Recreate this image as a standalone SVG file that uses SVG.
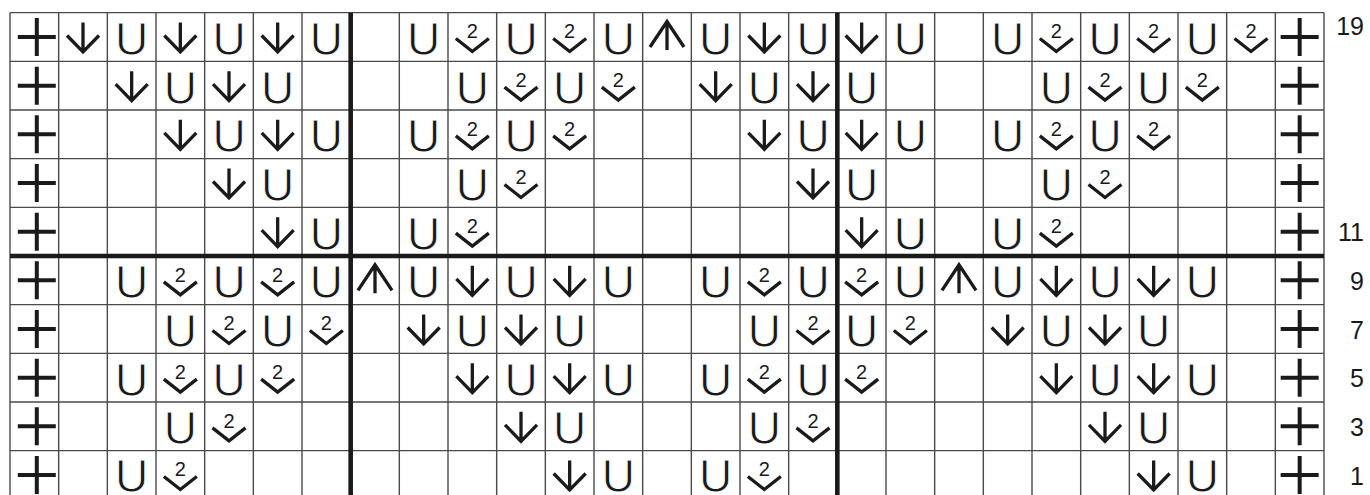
<svg xmlns="http://www.w3.org/2000/svg" width="1370" height="495" viewBox="0 0 1370 495">
<style>
.thin{stroke:#4a4a4a;stroke-width:1.4;fill:none}
.thick{stroke:#1a1a1a;stroke-width:4.6;fill:none}
.sym{stroke:#1a1a1a;stroke-width:3.3;fill:none;stroke-linejoin:miter;stroke-linecap:butt}
.plus{stroke:#1a1a1a;stroke-width:4;fill:none}
.u{font-family:"Liberation Sans",Arial,sans-serif;font-size:46px;fill:#1a1a1a;stroke:#ffffff;stroke-width:0.8;text-anchor:middle}
.two{font-family:"Liberation Sans",Arial,sans-serif;font-size:20px;fill:#1a1a1a;text-anchor:middle}
.lbl{font-family:"Liberation Sans",Arial,sans-serif;font-size:25px;fill:#1a1a1a;text-anchor:end}
</style>
<defs>
<g id="p"><path class="plus" d="M-19,0H19M0,-19V19"/></g>
<g id="d"><path class="sym" d="M0,-14.5V14M-16,-1.5L0,15L16,-1.5"/></g>
<g id="a"><path class="sym" d="M0,-15V13M-17,10L0,-15.5L17,10"/></g>
<g id="k"><path class="sym" d="M-16.5,1.5L0,14.5L16.5,1.5"/></g>
</defs>
<rect x="0" y="0" width="1370" height="495" fill="#ffffff"/>
<g id="grid">
<path class="thin" d="M10,12.67V499M58.67,12.67V499M107.33,12.67V499M156,12.67V499M204.67,12.67V499M253.33,12.67V499M302,12.67V499M399.33,12.67V499M448,12.67V499M496.67,12.67V499M545.33,12.67V499M594,12.67V499M642.67,12.67V499M691.33,12.67V499M740,12.67V499M788.67,12.67V499M886,12.67V499M934.67,12.67V499M983.33,12.67V499M1032,12.67V499M1080.67,12.67V499M1129.33,12.67V499M1178,12.67V499M1226.67,12.67V499M1275.33,12.67V499M1324,12.67V499"/>
<path class="thin" d="M10,12.67H1324M10,61.33H1324M10,110H1324M10,158.67H1324M10,207.33H1324M10,304.67H1324M10,353.33H1324M10,402H1324M10,450.67H1324"/>
<path class="thick" d="M350.67,12.67V499M837.33,12.67V499M10,256H1324"/>
</g>
<g id="row19">
<use href="#p" x="36.8" y="37"/><use href="#d" x="83" y="37"/><text class="u" x="131.67" y="55">U</text><use href="#d" x="180.33" y="37"/><text class="u" x="229" y="55">U</text><use href="#d" x="277.67" y="37"/><text class="u" x="326.33" y="55">U</text>
<text class="u" x="423.67" y="55">U</text><use href="#k" x="472.33" y="37"/><text class="two" x="472.33" y="38.3">2</text><text class="u" x="521" y="55">U</text><use href="#k" x="569.67" y="37"/><text class="two" x="569.67" y="38.3">2</text><text class="u" x="618.33" y="55">U</text><use href="#a" x="667" y="37"/><text class="u" x="715.67" y="55">U</text><use href="#d" x="764.33" y="37"/><text class="u" x="813" y="55">U</text>
<use href="#d" x="861.67" y="37"/><text class="u" x="910.33" y="55">U</text><text class="u" x="1007.67" y="55">U</text><use href="#k" x="1056.33" y="37"/><text class="two" x="1056.33" y="38.3">2</text><text class="u" x="1105" y="55">U</text><use href="#k" x="1153.67" y="37"/><text class="two" x="1153.67" y="38.3">2</text><text class="u" x="1202.33" y="55">U</text><use href="#k" x="1251" y="37"/><text class="two" x="1251" y="38.3">2</text><use href="#p" x="1299.67" y="37"/>
</g>
<g id="row17">
<use href="#p" x="36.8" y="85.67"/><use href="#d" x="131.67" y="85.67"/><text class="u" x="180.33" y="103.67">U</text><use href="#d" x="229" y="85.67"/><text class="u" x="277.67" y="103.67">U</text>
<text class="u" x="472.33" y="103.67">U</text><use href="#k" x="521" y="85.67"/><text class="two" x="521" y="86.97">2</text><text class="u" x="569.67" y="103.67">U</text><use href="#k" x="618.33" y="85.67"/><text class="two" x="618.33" y="86.97">2</text><use href="#d" x="715.67" y="85.67"/><text class="u" x="764.33" y="103.67">U</text><use href="#d" x="813" y="85.67"/>
<text class="u" x="861.67" y="103.67">U</text><text class="u" x="1056.33" y="103.67">U</text><use href="#k" x="1105" y="85.67"/><text class="two" x="1105" y="86.97">2</text><text class="u" x="1153.67" y="103.67">U</text><use href="#k" x="1202.33" y="85.67"/><text class="two" x="1202.33" y="86.97">2</text><use href="#p" x="1299.67" y="85.67"/>
</g>
<g id="row15">
<use href="#p" x="36.8" y="134.33"/><use href="#d" x="180.33" y="134.33"/><text class="u" x="229" y="152.33">U</text><use href="#d" x="277.67" y="134.33"/><text class="u" x="326.33" y="152.33">U</text>
<text class="u" x="423.67" y="152.33">U</text><use href="#k" x="472.33" y="134.33"/><text class="two" x="472.33" y="135.63">2</text><text class="u" x="521" y="152.33">U</text><use href="#k" x="569.67" y="134.33"/><text class="two" x="569.67" y="135.63">2</text><use href="#d" x="764.33" y="134.33"/><text class="u" x="813" y="152.33">U</text>
<use href="#d" x="861.67" y="134.33"/><text class="u" x="910.33" y="152.33">U</text><text class="u" x="1007.67" y="152.33">U</text><use href="#k" x="1056.33" y="134.33"/><text class="two" x="1056.33" y="135.63">2</text><text class="u" x="1105" y="152.33">U</text><use href="#k" x="1153.67" y="134.33"/><text class="two" x="1153.67" y="135.63">2</text><use href="#p" x="1299.67" y="134.33"/>
</g>
<g id="row13">
<use href="#p" x="36.8" y="183"/><use href="#d" x="229" y="183"/><text class="u" x="277.67" y="201">U</text>
<text class="u" x="472.33" y="201">U</text><use href="#k" x="521" y="183"/><text class="two" x="521" y="184.3">2</text><use href="#d" x="813" y="183"/>
<text class="u" x="861.67" y="201">U</text><text class="u" x="1056.33" y="201">U</text><use href="#k" x="1105" y="183"/><text class="two" x="1105" y="184.3">2</text><use href="#p" x="1299.67" y="183"/>
</g>
<g id="row11">
<use href="#p" x="36.8" y="231.67"/><use href="#d" x="277.67" y="231.67"/><text class="u" x="326.33" y="249.67">U</text>
<text class="u" x="423.67" y="249.67">U</text><use href="#k" x="472.33" y="231.67"/><text class="two" x="472.33" y="232.97">2</text>
<use href="#d" x="861.67" y="231.67"/><text class="u" x="910.33" y="249.67">U</text><text class="u" x="1007.67" y="249.67">U</text><use href="#k" x="1056.33" y="231.67"/><text class="two" x="1056.33" y="232.97">2</text><use href="#p" x="1299.67" y="231.67"/>
</g>
<g id="row9">
<use href="#p" x="36.8" y="280.33"/><text class="u" x="131.67" y="298.33">U</text><use href="#k" x="180.33" y="280.33"/><text class="two" x="180.33" y="281.63">2</text><text class="u" x="229" y="298.33">U</text><use href="#k" x="277.67" y="280.33"/><text class="two" x="277.67" y="281.63">2</text><text class="u" x="326.33" y="298.33">U</text>
<use href="#a" x="375" y="280.33"/><text class="u" x="423.67" y="298.33">U</text><use href="#d" x="472.33" y="280.33"/><text class="u" x="521" y="298.33">U</text><use href="#d" x="569.67" y="280.33"/><text class="u" x="618.33" y="298.33">U</text><text class="u" x="715.67" y="298.33">U</text><use href="#k" x="764.33" y="280.33"/><text class="two" x="764.33" y="281.63">2</text><text class="u" x="813" y="298.33">U</text>
<use href="#k" x="861.67" y="280.33"/><text class="two" x="861.67" y="281.63">2</text><text class="u" x="910.33" y="298.33">U</text><use href="#a" x="959" y="280.33"/><text class="u" x="1007.67" y="298.33">U</text><use href="#d" x="1056.33" y="280.33"/><text class="u" x="1105" y="298.33">U</text><use href="#d" x="1153.67" y="280.33"/><text class="u" x="1202.33" y="298.33">U</text><use href="#p" x="1299.67" y="280.33"/>
</g>
<g id="row7">
<use href="#p" x="36.8" y="329"/><text class="u" x="180.33" y="347">U</text><use href="#k" x="229" y="329"/><text class="two" x="229" y="330.3">2</text><text class="u" x="277.67" y="347">U</text><use href="#k" x="326.33" y="329"/><text class="two" x="326.33" y="330.3">2</text>
<use href="#d" x="423.67" y="329"/><text class="u" x="472.33" y="347">U</text><use href="#d" x="521" y="329"/><text class="u" x="569.67" y="347">U</text><text class="u" x="764.33" y="347">U</text><use href="#k" x="813" y="329"/><text class="two" x="813" y="330.3">2</text>
<text class="u" x="861.67" y="347">U</text><use href="#k" x="910.33" y="329"/><text class="two" x="910.33" y="330.3">2</text><use href="#d" x="1007.67" y="329"/><text class="u" x="1056.33" y="347">U</text><use href="#d" x="1105" y="329"/><text class="u" x="1153.67" y="347">U</text><use href="#p" x="1299.67" y="329"/>
</g>
<g id="row5">
<use href="#p" x="36.8" y="377.67"/><text class="u" x="131.67" y="395.67">U</text><use href="#k" x="180.33" y="377.67"/><text class="two" x="180.33" y="378.97">2</text><text class="u" x="229" y="395.67">U</text><use href="#k" x="277.67" y="377.67"/><text class="two" x="277.67" y="378.97">2</text>
<use href="#d" x="472.33" y="377.67"/><text class="u" x="521" y="395.67">U</text><use href="#d" x="569.67" y="377.67"/><text class="u" x="618.33" y="395.67">U</text><text class="u" x="715.67" y="395.67">U</text><use href="#k" x="764.33" y="377.67"/><text class="two" x="764.33" y="378.97">2</text><text class="u" x="813" y="395.67">U</text>
<use href="#k" x="861.67" y="377.67"/><text class="two" x="861.67" y="378.97">2</text><use href="#d" x="1056.33" y="377.67"/><text class="u" x="1105" y="395.67">U</text><use href="#d" x="1153.67" y="377.67"/><text class="u" x="1202.33" y="395.67">U</text><use href="#p" x="1299.67" y="377.67"/>
</g>
<g id="row3">
<use href="#p" x="36.8" y="426.33"/><text class="u" x="180.33" y="444.33">U</text><use href="#k" x="229" y="426.33"/><text class="two" x="229" y="427.63">2</text>
<use href="#d" x="521" y="426.33"/><text class="u" x="569.67" y="444.33">U</text><text class="u" x="764.33" y="444.33">U</text><use href="#k" x="813" y="426.33"/><text class="two" x="813" y="427.63">2</text>
<use href="#d" x="1105" y="426.33"/><text class="u" x="1153.67" y="444.33">U</text><use href="#p" x="1299.67" y="426.33"/>
</g>
<g id="row1">
<use href="#p" x="36.8" y="475"/><text class="u" x="131.67" y="492">U</text><use href="#k" x="180.33" y="475"/><text class="two" x="180.33" y="476.3">2</text>
<use href="#d" x="569.67" y="475"/><text class="u" x="618.33" y="492">U</text><text class="u" x="715.67" y="492">U</text><use href="#k" x="764.33" y="475"/><text class="two" x="764.33" y="476.3">2</text>
<use href="#d" x="1153.67" y="475"/><text class="u" x="1202.33" y="492">U</text><use href="#p" x="1299.67" y="475"/>
</g>
<g id="labels">
<text class="lbl" x="1364" y="35">19</text>
<text class="lbl" x="1364" y="241">11</text>
<text class="lbl" x="1364" y="289.5">9</text>
<text class="lbl" x="1364" y="338.5">7</text>
<text class="lbl" x="1364" y="387">5</text>
<text class="lbl" x="1364" y="435.5">3</text>
<text class="lbl" x="1364" y="484.5">1</text>
</g>
</svg>
